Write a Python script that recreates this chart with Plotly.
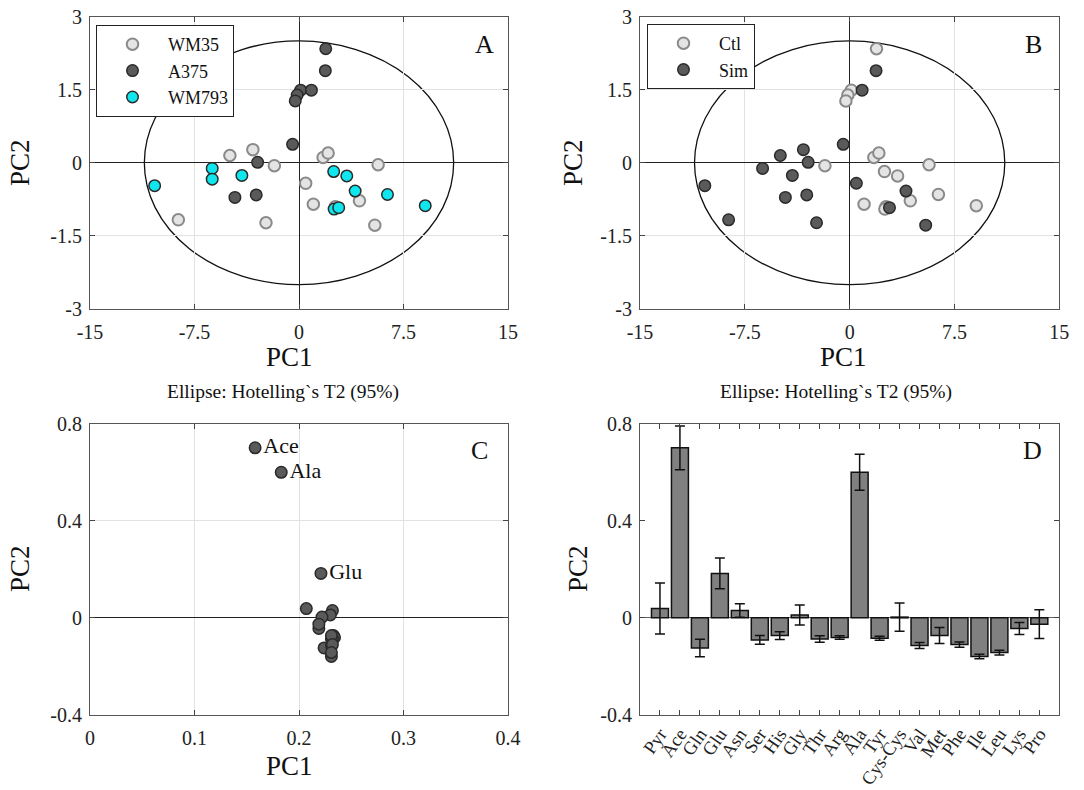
import plotly.graph_objects as go

# ---------------- data ----------------
# Panel A: scores by cell line
wm35_pc1 = [-4.96, -3.31, -1.77, 1.73, 2.09, 5.68, 0.48, 1.03, 4.34, 2.60, -8.66, -2.37, 5.44]
wm35_pc2 = [0.15, 0.27, -0.06, 0.11, 0.20, -0.04, -0.42, -0.85, -0.78, -0.90, -1.17, -1.23, -1.28]
a375_pc1 = [1.92, 1.89, 0.12, 0.89, -0.13, -0.27, -0.46, -2.97, -4.60, -3.07]
a375_pc2 = [2.34, 1.89, 1.49, 1.49, 1.39, 1.27, 0.38, 0.01, -0.71, -0.66]
wm793_pc1 = [-10.36, -6.23, -6.23, -4.10, 2.49, 3.43, 4.03, 6.35, 9.06, 2.52, 2.85]
wm793_pc2 = [-0.47, -0.115, -0.335, -0.26, -0.18, -0.27, -0.58, -0.65, -0.88, -0.95, -0.92]

# Panel B: scores by treatment
ctl_pc1 = [1.92, 0.12, -0.13, -0.27, -1.77, 1.73, 2.09, 5.68, 2.49, 3.43, 6.35, 9.06, 1.03, 4.34, 2.60, 2.52]
ctl_pc2 = [2.34, 1.49, 1.39, 1.27, -0.06, 0.11, 0.20, -0.04, -0.18, -0.27, -0.65, -0.88, -0.85, -0.78, -0.90, -0.95]
sim_pc1 = [1.89, 0.89, -0.46, -4.96, -3.31, -2.97, -6.23, -4.10, -10.36, -4.60, -3.07, -8.66, -2.37, 0.48, 4.03, 2.85, 5.44]
sim_pc2 = [1.89, 1.49, 0.38, 0.15, 0.27, 0.01, -0.115, -0.26, -0.47, -0.71, -0.66, -1.17, -1.23, -0.42, -0.58, -0.92, -1.28]

# Hotelling T2 ellipse semi-axes (95%)
ell_a = 11.1
ell_b = 2.5

# Panels C/D: loadings
metabolites = ["Pyr", "Ace", "Gln", "Glu", "Asn", "Ser", "His", "Gly", "Thr", "Arg",
               "Ala", "Tyr", "Cys-Cys", "Val", "Met", "Phe", "Ile", "Leu", "Lys", "Pro"]
load_pc1 = [0.207, 0.158, 0.224, 0.221, 0.232, 0.232, 0.233, 0.230, 0.231, 0.234,
            0.183, 0.232, 0.222, 0.231, 0.231, 0.232, 0.231, 0.231, 0.219, 0.219]
load_pc2 = [0.038, 0.700, -0.124, 0.183, 0.030, -0.091, -0.073, 0.012, -0.087, -0.081,
            0.599, -0.084, 0.003, -0.114, -0.073, -0.110, -0.159, -0.143, -0.044, -0.026]
load_pc2_err = [0.105, 0.090, 0.036, 0.063, 0.028, 0.018, 0.016, 0.041, 0.013, 0.007,
                0.074, 0.008, 0.058, 0.012, 0.033, 0.011, 0.009, 0.010, 0.025, 0.059]
labelled = ["Ace", "Ala", "Glu"]

# ---------------- figure ----------------
FONT = "Liberation Serif"
W, H = 1084, 790

def px_x(v):
    return v / W

def px_y(v):
    return 1 - v / H

LIGHT = dict(color="#e4e4e4", line=dict(color="#8a8a8a", width=2))
DARK = dict(color="#5a5a5a", line=dict(color="#2a2a2a", width=1.5))
CYAN = dict(color="#10e6ee", line=dict(color="#2a2a2a", width=1.5))
MS = 11.5

fig = go.Figure()

# Panel A
fig.add_trace(go.Scatter(x=wm35_pc1, y=wm35_pc2, mode="markers", name="WM35",
                         marker=dict(size=MS, **LIGHT), xaxis="x", yaxis="y", legend="legend"))
fig.add_trace(go.Scatter(x=a375_pc1, y=a375_pc2, mode="markers", name="A375",
                         marker=dict(size=MS, **DARK), xaxis="x", yaxis="y", legend="legend"))
fig.add_trace(go.Scatter(x=wm793_pc1, y=wm793_pc2, mode="markers", name="WM793",
                         marker=dict(size=MS, **CYAN), xaxis="x", yaxis="y", legend="legend"))

# Panel B
fig.add_trace(go.Scatter(x=ctl_pc1, y=ctl_pc2, mode="markers", name="Ctl",
                         marker=dict(size=MS, **LIGHT), xaxis="x2", yaxis="y2", legend="legend2"))
fig.add_trace(go.Scatter(x=sim_pc1, y=sim_pc2, mode="markers", name="Sim",
                         marker=dict(size=MS, **DARK), xaxis="x2", yaxis="y2", legend="legend2"))

# Panel C
fig.add_trace(go.Scatter(
    x=load_pc1, y=load_pc2, mode="markers+text",
    text=[m if m in labelled else "" for m in metabolites],
    textposition="middle right", textfont=dict(family=FONT, size=22, color="#111"),
    marker=dict(size=MS, **DARK), xaxis="x3", yaxis="y3", showlegend=False))

# Panel D
fig.add_trace(go.Bar(
    x=metabolites, y=load_pc2, width=0.85,
    marker=dict(color="#808080", line=dict(color="#111", width=1.5)),
    error_y=dict(type="data", array=load_pc2_err, color="#111", thickness=1.5, width=5),
    xaxis="x4", yaxis="y4", showlegend=False))

dom_left = [px_x(90), px_x(508)]
dom_right = [px_x(640), px_x(1059.3)]
dom_top = [px_y(309), px_y(16.6)]
dom_bot = [px_y(715), px_y(423.5)]

ax_common = dict(
    automargin=False,
    showline=True, linecolor="#555", linewidth=1, mirror="ticks",
    ticks="inside", ticklen=5, tickcolor="#444", tickwidth=1,
    tickfont=dict(family=FONT, size=20, color="#222"),
    showgrid=True, gridcolor="#e2e2e2", gridwidth=1,
    zeroline=True, zerolinecolor="#222", zerolinewidth=1.4,
)
xa = dict(ax_common, ticklabelstandoff=5)
ya = dict(ax_common, ticklabelstandoff=3)

fig.update_layout(
    width=W, height=H, margin=dict(l=0, r=0, t=0, b=0, autoexpand=False),
    paper_bgcolor="white", plot_bgcolor="white",
    font=dict(family=FONT, color="#111"),
    xaxis=dict(domain=dom_left, anchor="y", range=[-15, 15],
               tickvals=[-15, -7.5, 0, 7.5, 15], ticktext=["-15", "-7.5", "0", "7.5", "15"], **xa),
    yaxis=dict(domain=dom_top, anchor="x", range=[-3, 3],
               tickvals=[-3, -1.5, 0, 1.5, 3], ticktext=["-3", "-1.5", "0", "1.5", "3"], **ya),
    xaxis2=dict(domain=dom_right, anchor="y2", range=[-15, 15],
                tickvals=[-15, -7.5, 0, 7.5, 15], ticktext=["-15", "-7.5", "0", "7.5", "15"], **xa),
    yaxis2=dict(domain=dom_top, anchor="x2", range=[-3, 3],
                tickvals=[-3, -1.5, 0, 1.5, 3], ticktext=["-3", "-1.5", "0", "1.5", "3"], **ya),
    xaxis3=dict(domain=dom_left, anchor="y3", range=[0, 0.4],
                tickvals=[0, 0.1, 0.2, 0.3, 0.4], ticktext=["0", "0.1", "0.2", "0.3", "0.4"], **xa),
    yaxis3=dict(domain=dom_bot, anchor="x3", range=[-0.4, 0.8],
                tickvals=[-0.4, 0, 0.4, 0.8], ticktext=["-0.4", "0", "0.4", "0.8"], **ya),
    xaxis4=dict(domain=dom_right, anchor="y4", range=[-1, 20], type="category",
                tickmode="linear", dtick=1, tickangle=-55,
                **{**xa, "showgrid": False, "zeroline": False, "ticklabelstandoff": 0,
                   "tickfont": dict(family=FONT, size=18.5, color="#222")}),
    yaxis4=dict(domain=dom_bot, anchor="x4", range=[-0.4, 0.8],
                tickvals=[-0.4, 0, 0.4, 0.8], ticktext=["-0.4", "0", "0.4", "0.8"],
                **{**ya, "showgrid": False, "zerolinecolor": "#666"}),
    legend=dict(x=px_x(96), y=px_y(25), xanchor="left", yanchor="top",
                bordercolor="#222", borderwidth=1, bgcolor="white",
                font=dict(family=FONT, size=18, color="#111"), itemwidth=61,
                tracegroupgap=0),
    legend2=dict(x=px_x(647), y=px_y(24), xanchor="left", yanchor="top",
                 bordercolor="#222", borderwidth=1, bgcolor="white",
                 font=dict(family=FONT, size=18, color="#111"), itemwidth=61,
                 tracegroupgap=0),
    bargap=0.15,
)

# Ellipses
for xr, yr in [("x", "y"), ("x2", "y2")]:
    fig.add_shape(type="circle", xref=xr, yref=yr, x0=-ell_a, x1=ell_a, y0=-ell_b, y1=ell_b,
                  line=dict(color="#111", width=1.3), layer="below")

def ann(text, x, y, size, angle=0):
    fig.add_annotation(text=text, x=px_x(x), y=px_y(y), xref="paper", yref="paper",
                       xanchor="center", yanchor="middle",
                       showarrow=False, textangle=angle,
                       font=dict(family=FONT, size=size, color="#111"))

# panel letters
ann("A", 484, 45, 26)
ann("B", 1033, 45, 26)
ann("C", 479, 450, 26)
ann("D", 1032, 450, 26)

# axis titles
ann("PC1", 289, 357, 27)
ann("PC1", 843, 357, 27)
ann("PC1", 289, 766, 27)
ann("PC2", 20, 163, 27, angle=-90)
ann("PC2", 573, 163, 27, angle=-90)
ann("PC2", 20, 569, 27, angle=-90)
ann("PC2", 578, 569, 27, angle=-90)

# ellipse notes
ann("Ellipse: Hotelling`s T2 (95%)", 283, 392, 19.5)
ann("Ellipse: Hotelling`s T2 (95%)", 836, 392, 19.5)

fig.write_html("out.html")
